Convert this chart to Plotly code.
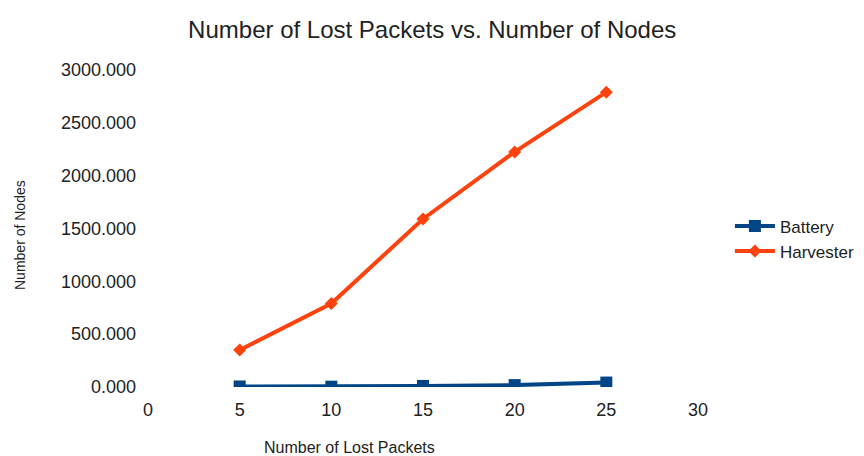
import plotly.graph_objects as go

nodes = [5, 10, 15, 20, 25]
battery = [5, 3, 10, 18, 42]
harvester = [350, 790, 1590, 2225, 2790]
x_ticks = [0, 5, 10, 15, 20, 25, 30]
y_ticks = [0, 500, 1000, 1500, 2000, 2500, 3000]

FONT = "Liberation Sans, Arial, sans-serif"

fig = go.Figure()
fig.add_trace(go.Scatter(
    x=nodes, y=battery, name="Battery", mode="lines+markers",
    line=dict(color="#004586", width=4),
    marker=dict(symbol="square", size=12, color="#004586"),
))
fig.add_trace(go.Scatter(
    x=nodes, y=harvester, name="Harvester", mode="lines+markers",
    line=dict(color="#ff420e", width=4),
    marker=dict(symbol="diamond", size=10, color="#ff420e"),
))

L, T, PW, PH = 140, 62, 550, 317
fig.update_layout(
    width=864, height=456,
    margin=dict(l=L, r=864 - L - PW, t=T, b=456 - T - PH),
    paper_bgcolor="white", plot_bgcolor="white",
    font=dict(family=FONT, color="#222222", size=16),
    title=dict(text="Number of Lost Packets vs. Number of Nodes",
               x=0.491, xanchor="center", y=1 - 22 / 456, yanchor="middle",
               font=dict(size=24, color="#222222")),
    showlegend=True,
    legend=dict(x=1.058, y=0.467, xanchor="left", yanchor="middle",
                font=dict(size=17), bgcolor="rgba(0,0,0,0)",
                itemwidth=40),
    xaxis=dict(range=[0, 30], tickvals=x_ticks, showgrid=False,
               zeroline=False, showline=False, ticks="",
               ticklabelstandoff=10, tickfont=dict(size=18)),
    yaxis=dict(range=[0, 3000], tickvals=y_ticks, tickformat=".3f",
               showgrid=False, zeroline=False, showline=False, ticks="",
               ticklabelstandoff=11, tickfont=dict(size=18)),
    annotations=[
        dict(text="Number of Lost Packets", xref="paper", yref="paper",
             x=(341 - L) / PW, y=-(439 - (T + PH)) / PH,
             xanchor="center", yanchor="middle",
             showarrow=False, font=dict(size=16)),
        dict(text="Number of Nodes", xref="paper", yref="paper",
             x=-(L - 12) / PW, y=(T + PH - 227) / PH,
             xanchor="center", yanchor="middle",
             textangle=-90, showarrow=False, font=dict(size=14)),
    ],
)

fig.write_html("out.html")
